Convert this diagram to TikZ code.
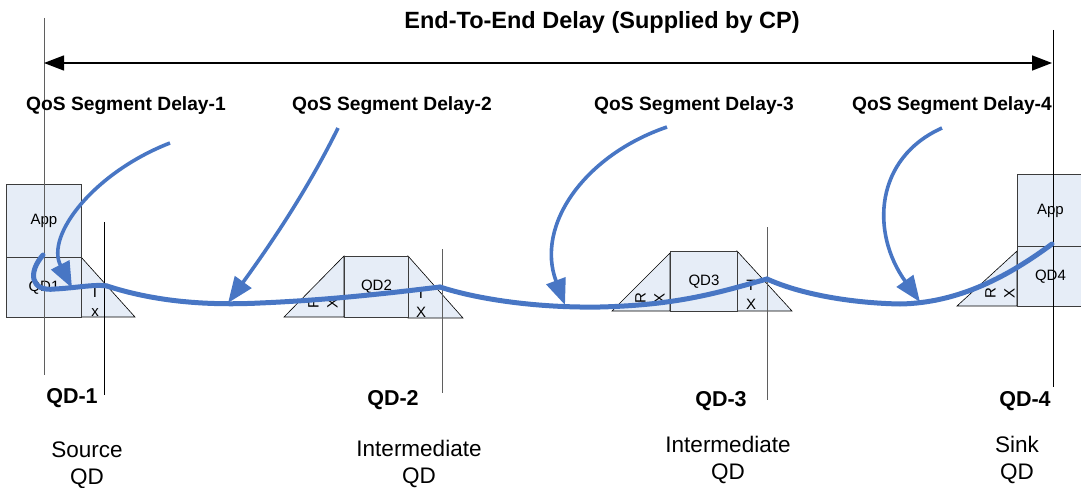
\documentclass[tikz,border=0pt]{standalone}
\usepackage{fontspec}
\setmainfont{Liberation Sans}
\usetikzlibrary{arrows.meta}
\definecolor{boxfill}{RGB}{230,237,247}
\definecolor{flow}{RGB}{72,118,196}
\definecolor{edgec}{RGB}{60,60,60}
\definecolor{grayline}{RGB}{95,95,95}
\begin{document}
\begin{tikzpicture}[x=1pt,y=-1pt,
  box/.style={draw=edgec, fill=boxfill, line width=0.9pt, inner sep=0pt, anchor=north west, font=\fontsize{15}{15}\selectfont},
  tri/.style={draw=black, fill=boxfill, line width=0.6pt},
  small/.style={font=\fontsize{15}{19}\selectfont, inner sep=0pt, align=center},
  seg/.style={font=\bfseries\fontsize{19.2}{19.2}\selectfont},
  ttl/.style={font=\bfseries\fontsize{23.5}{23.5}\selectfont},
  qdlab/.style={font=\bfseries\fontsize{21.5}{21.5}\selectfont},
  role/.style={font=\fontsize{22.5}{27}\selectfont, align=center, inner sep=0pt},
  vline/.style={line width=0.8pt},
  flowline/.style={draw=flow, line width=5pt, line cap=round, line join=round},
  pointer/.style={draw=flow, line width=3.6pt, -{Triangle[length=26pt,width=20pt]}},
]
\useasboundingbox (0,0) rectangle (1081,487);

% ---------- QD1 ----------
\filldraw[tri] (81,257) -- (135,317) -- (81,317) -- cycle;
\node[box, minimum width=75pt, minimum height=73pt] (app1) at (6,184) {App};
\node[box, minimum width=75pt, minimum height=60pt] (qd1) at (6,257) {QD1};
\node[small] (tx1) at (95,302) {T\\x};

% ---------- QD2 ----------
\filldraw[tri] (284,317) -- (344,256) -- (344,317) -- cycle;
\filldraw[tri] (408,256) -- (463,318) -- (408,318) -- cycle;
\node[box, minimum width=64pt, minimum height=61pt] (qd2) at (344,256) {QD2};
\node[small, rotate=90] (rx2) at (323,303) {R\\X};
\node[small] (tx2) at (421,303) {T\\X};

% ---------- QD3 ----------
\filldraw[tri] (612,311) -- (670,253) -- (670,311) -- cycle;
\filldraw[tri] (737,251) -- (792,311) -- (737,311) -- cycle;
\node[box, minimum width=67pt, minimum height=60pt] (qd3) at (670,251) {QD3};
\node[small, rotate=90] (rx3) at (650,298) {R\\X};
\node[small] (tx3) at (751,295) {T\\X};

% ---------- QD4 ----------
\filldraw[tri] (957,306) -- (1017,251) -- (1017,306) -- cycle;
\node[box, minimum width=66pt, minimum height=72pt] (app4) at (1017,174) {App};
\node[box, minimum width=66pt, minimum height=60pt] (qd4) at (1017,246) {QD4};
\node[small, rotate=90] (rx4) at (1000,293) {R\\X};

% ---------- vertical lines ----------
\coordinate (l1t) at (44,18);   \coordinate (l1b) at (44,375);
\coordinate (m1t) at (104,222); \coordinate (m1b) at (104,395);
\coordinate (m2t) at (442,249); \coordinate (m2b) at (442,393);
\coordinate (m3t) at (767,227); \coordinate (m3b) at (767,400);
\coordinate (l4t) at (1053,30); \coordinate (l4b) at (1053,387);
\draw[vline, grayline] (l1t) -- (l1b);
\draw[vline] (m1t) -- (m1b);
\draw[vline, grayline] (m2t) -- (m2b);
\draw[vline, grayline] (m3t) -- (m3b);
\draw[vline] (l4t) -- (l4b);

% ---------- end-to-end arrow ----------
\coordinate (eL) at (44,63);
\coordinate (eR) at (1052,63);
\draw[line width=1.4pt, {Triangle[length=20pt,width=15pt]}-{Triangle[length=20pt,width=15pt]}] (eL) -- (eR);

% ---------- texts ----------
\node[ttl] (title) at (602,22) {End-To-End Delay (Supplied by CP)};
\node[seg] (s1) at (126,106) {QoS Segment Delay-1};
\node[seg] (s2) at (392,106) {QoS Segment Delay-2};
\node[seg] (s3) at (694,106) {QoS Segment Delay-3};
\node[seg] (s4) at (952,106) {QoS Segment Delay-4};

\node[qdlab] (q1) at (72,398) {QD-1};
\node[qdlab] (q2) at (393,400) {QD-2};
\node[qdlab] (q3) at (721,401) {QD-3};
\node[qdlab] (q4) at (1025,401) {QD-4};

\node[role] (r1) at (87,465) {Source\\QD};
\node[role] (r2) at (419,464) {Intermediate\\QD};
\node[role] (r3) at (728,460) {Intermediate\\QD};
\node[role] (r4) at (1017,460) {Sink\\QD};

% ---------- main flow ----------
\coordinate (f0) at (43,255);
\coordinate (f1) at (107,286);
\coordinate (f2) at (440,287);
\coordinate (f3) at (767,279);
\coordinate (f4) at (1052,244);
\draw[flowline] (f0) .. controls (28,272) and (30,292) .. (55,289)
  .. controls (75,288) and (95,284) .. (f1);
\draw[flowline] (f1) .. controls (150,300) and (200,306) .. (260,303)
  .. controls (330,300) and (390,293) .. (f2);
\draw[flowline] (f2) .. controls (480,300) and (540,308) .. (600,307)
  .. controls (680,305) and (720,292) .. (f3);
\draw[flowline] (f3) .. controls (800,294) and (850,303) .. (900,304)
  .. controls (960,303) and (1010,275) .. (f4);

% ---------- segment pointers ----------
\coordinate (a1s) at (170,143); \coordinate (a1e) at (72,288);
\coordinate (a2s) at (338,128); \coordinate (a2e) at (228,303);
\coordinate (a3s) at (667,127); \coordinate (a3e) at (565,305);
\coordinate (a4s) at (942,128); \coordinate (a4e) at (920,302);
\draw[pointer] (a1s) .. controls (95,172) and (45,235) .. (a1e);
\draw[pointer] (a2s) .. controls (305,195) and (265,252) .. (a2e);
\draw[pointer] (a3s) .. controls (585,155) and (535,225) .. (a3e);
\draw[pointer] (a4s) .. controls (875,158) and (870,232) .. (a4e);
\end{tikzpicture}
\end{document}
